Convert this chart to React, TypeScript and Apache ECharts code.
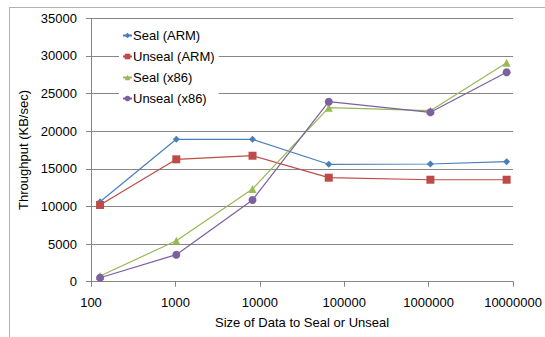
import React, { useEffect, useRef } from "react";
import * as echarts from "echarts";

const sizes = [128, 1024, 8192, 65536, 1048576, 8388608];
const sealARM = [10630, 18920, 18920, 15600, 15640, 15950];
const unsealARM = [10190, 16260, 16740, 13820, 13550, 13550];
const sealX86 = [760, 5450, 12320, 23120, 22720, 29100];
const unsealX86 = [530, 3590, 10860, 23920, 22510, 27830];
const seriesNames = ["Seal (ARM)", "Unseal (ARM)", "Seal (x86)", "Unseal (x86)"];
const seriesColors = ["#4a7ebb", "#be4b48", "#98b954", "#7d60a0"];
const seriesSymbols = ["diamond", "rect", "triangle", "circle"];
const seriesSizes = [7, 8, 8, 8];
const seriesData = [sealARM, unsealARM, sealX86, unsealX86];

const FONT = "Liberation Sans";

export default function App() {
  const ref = useRef<HTMLDivElement>(null);
  useEffect(() => {
    if (!ref.current) return;
    const chart = echarts.init(ref.current, null, { renderer: "svg" });
    chart.setOption({
      animation: false,
      backgroundColor: "#ffffff",
      textStyle: { fontFamily: FONT },
      grid: { left: 91, right: 26, top: 18.3, bottom: 55.3, containLabel: false },
      legend: {
        orient: "vertical",
        left: 119,
        top: 26,
        backgroundColor: "#ffffff",
        padding: [3, 4, 3, 3],
        itemGap: 8,
        itemWidth: 9,
        itemHeight: 7,
        textStyle: { fontFamily: FONT, fontSize: 13, color: "#000", padding: [0, 0, 0, -4] },
        data: seriesNames,
      },
      xAxis: {
        type: "log",
        logBase: 10,
        min: 100,
        max: 10000000,
        name: "Size of Data to Seal or Unseal",
        nameLocation: "middle",
        nameGap: 34,
        nameTextStyle: { fontFamily: FONT, fontSize: 13, color: "#000" },
        axisLine: { lineStyle: { color: "#868686", width: 1 } },
        axisTick: { show: true, inside: false, length: 5, lineStyle: { color: "#868686" } },
        minorTick: { show: false },
        splitLine: { show: false },
        axisLabel: {
          fontFamily: FONT,
          fontSize: 13,
          color: "#000",
          margin: 14,
          formatter: (v: number) => String(Math.round(v)),
        },
      },
      yAxis: {
        type: "value",
        min: 0,
        max: 35000,
        interval: 5000,
        name: "Throughput (KB/sec)",
        nameLocation: "middle",
        nameGap: 56,
        nameTextStyle: { fontFamily: FONT, fontSize: 13, color: "#000" },
        axisLine: { show: true, lineStyle: { color: "#868686", width: 1 } },
        axisTick: { show: true, length: 5, lineStyle: { color: "#868686" } },
        splitLine: { show: true, lineStyle: { color: "#868686", width: 1 } },
        axisLabel: {
          fontFamily: FONT,
          fontSize: 13,
          color: "#000",
          margin: 14,
          formatter: (v: number) => String(v),
        },
      },
      graphic: [
        { type: "line", shape: { x1: 9.5, y1: 7, x2: 9.5, y2: 337 }, style: { stroke: "#b0b0b0", lineWidth: 1 } },
        { type: "line", shape: { x1: 9, y1: 7.5, x2: 545, y2: 7.5 }, style: { stroke: "#b0b0b0", lineWidth: 1 } },
      ],
      series: seriesNames.map((name, i) => ({
        name,
        type: "line",
        data: sizes.map((s, j) => [s, seriesData[i][j]]),
        symbol: seriesSymbols[i],
        symbolSize: seriesSizes[i],
        showAllSymbol: true,
        lineStyle: { color: seriesColors[i], width: 1.2 },
        itemStyle: { color: seriesColors[i] },
        z: 2 + i,
      })),
    });
    return () => chart.dispose();
  }, []);
  return (
    <div
      ref={ref}
      style={{ position: "absolute", left: 0, top: 0, width: 545, height: 337 }}
    />
  );
}
